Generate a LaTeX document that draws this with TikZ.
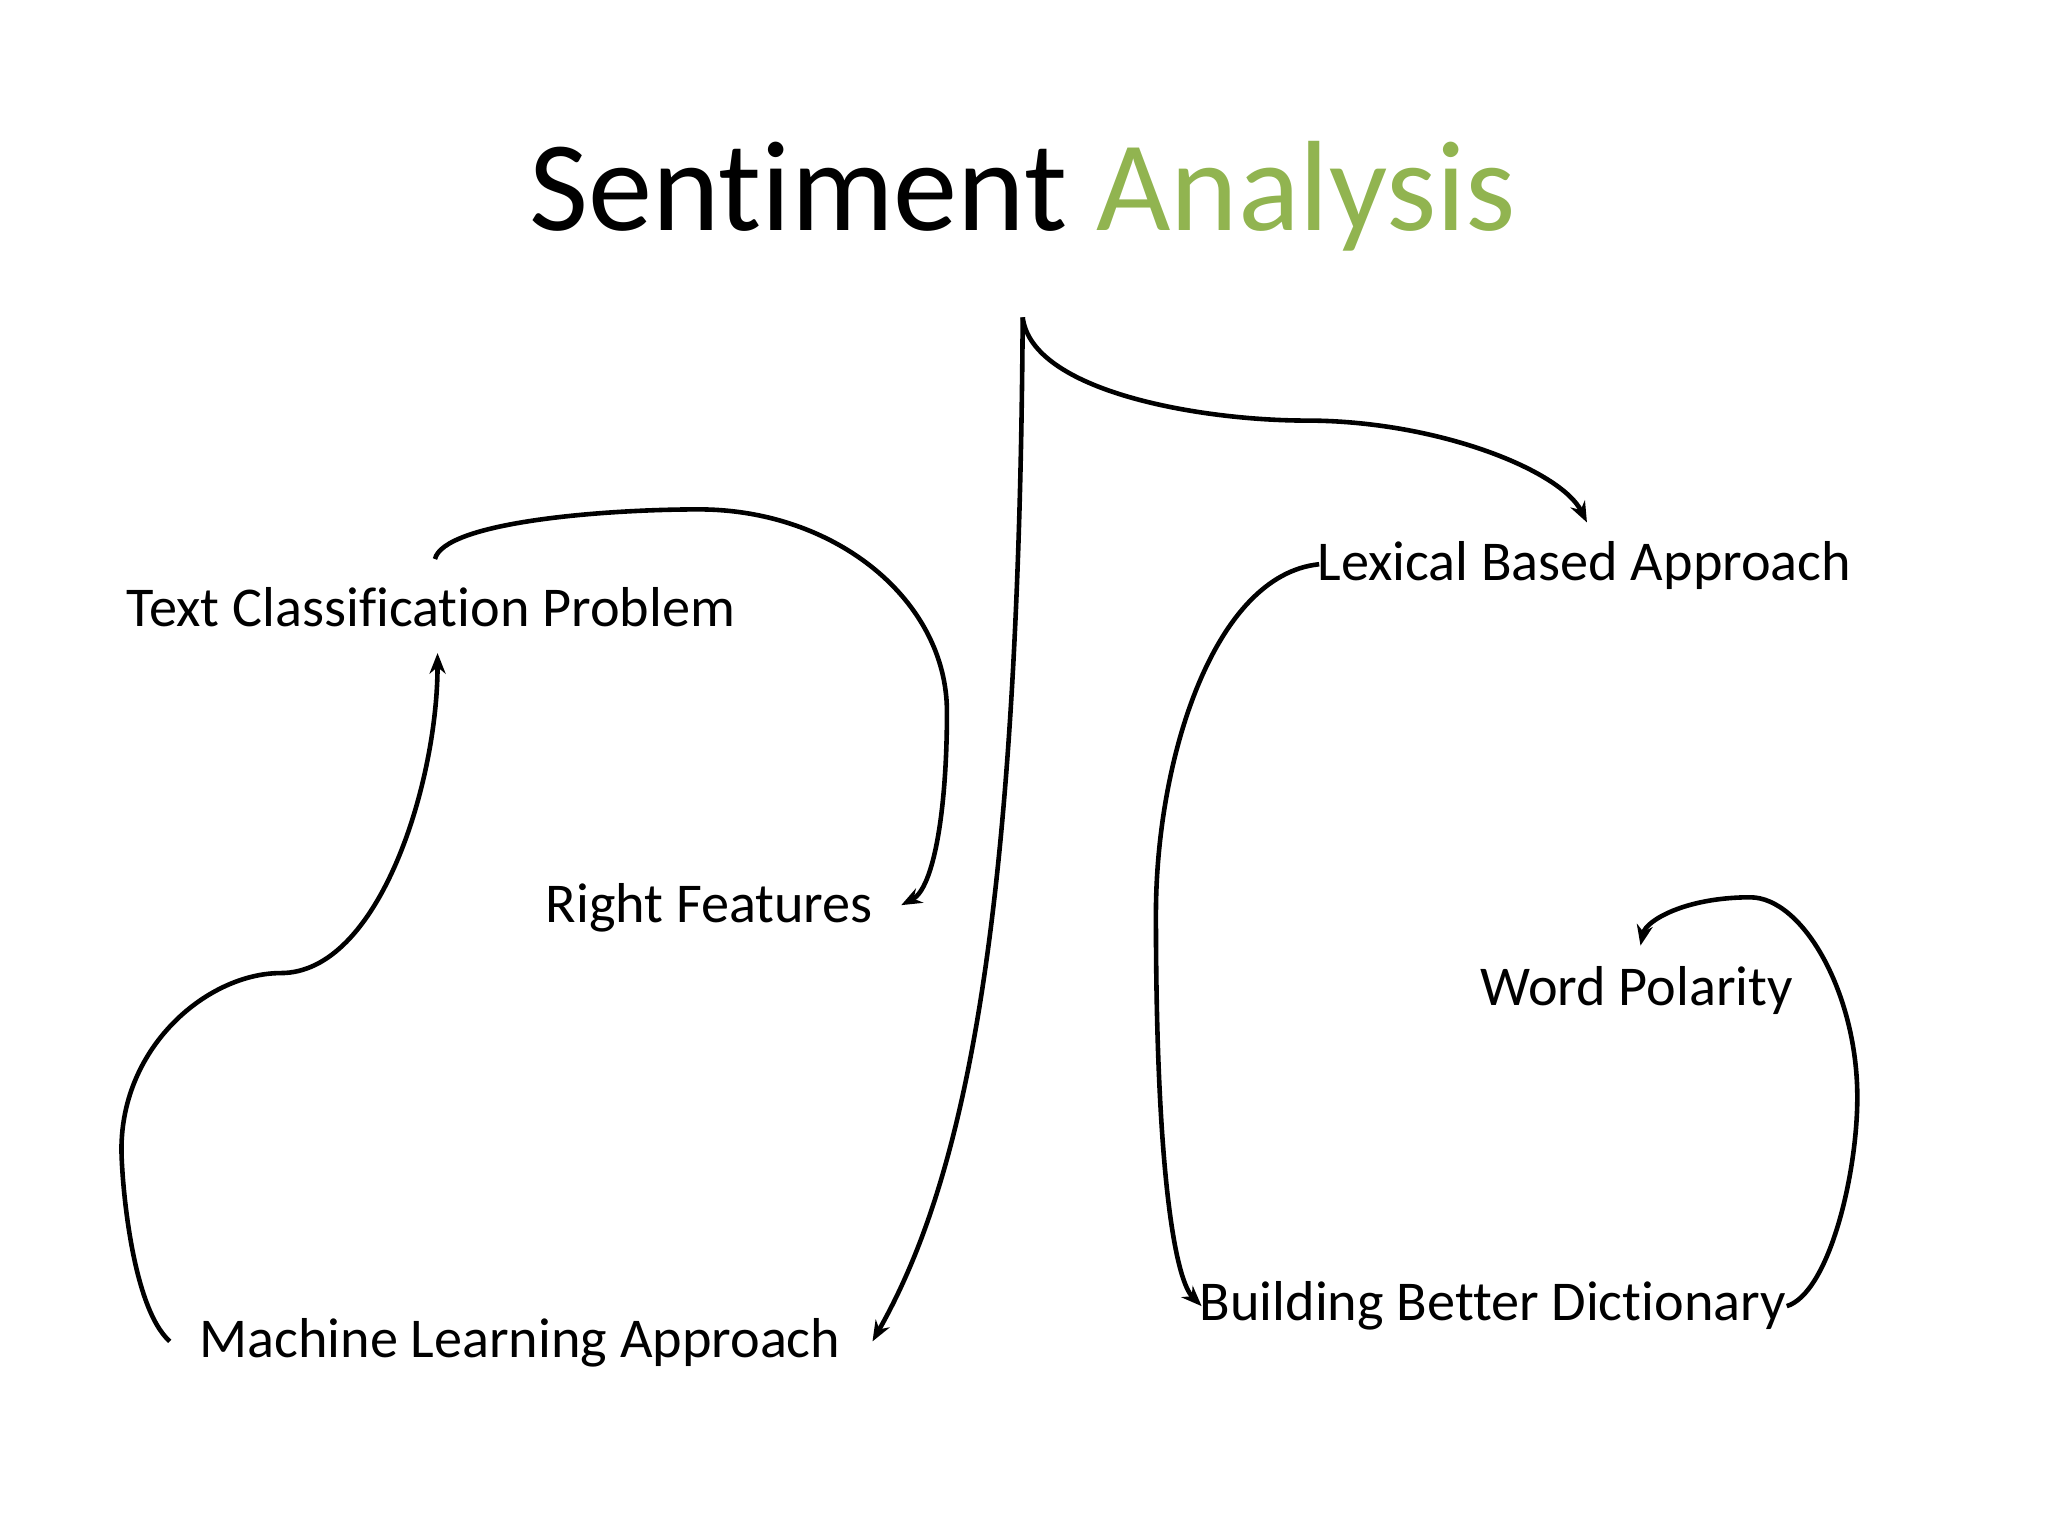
\documentclass[tikz,border=0pt]{standalone}
\usepackage{fontspec}
\setmainfont{Carlito}[Ligatures=NoCommon]
\usetikzlibrary{arrows.meta}
\definecolor{grn}{RGB}{145,180,80}
\begin{document}
\begin{tikzpicture}[x=0.02cm,y=-0.02cm,
  lab/.style={font=\fontsize{24.5}{29}\selectfont,inner sep=0pt},
  con/.style={line width=2pt,-{Stealth[length=9pt,width=7pt]}}]
\useasboundingbox (0,0) rectangle (1568,1176);
\node (title) at (783,150) {\fontsize{56}{66}\selectfont Sentiment \textcolor{grn}{Analysis}};
\node[lab] (tcp) at (330,465) {Text Classification Problem};
\node[lab] (rf) at (543,695) {Right Features};
\node[lab] (ml) at (398,1028) {Machine Learning Approach};
\node[lab] (lex) at (1213,433) {Lexical Based Approach};
\node[lab] (wp) at (1253,758) {Word Polarity};
\node[lab] (bbd) at (1143,1000) {Building Better Dictionary};
\coordinate (top) at (783,243);
\draw[con] (top) .. controls (780,700) and (740,900) .. (668,1027);
\draw[con] (top) .. controls (790,300) and (920,322) .. (1000,322) .. controls (1100,322) and (1195,360) .. (1215,400);
\draw[con] (130,1027) .. controls (100,1000) and (93,900) .. (93,880) .. controls (93,800) and (160,745) .. (215,745) .. controls (290,745) and (335,600) .. (335,500);
\draw[con] (333,428) .. controls (340,400) and (460,390) .. (535,390) .. controls (640,390) and (725,460) .. (725,545) .. controls (725,620) and (715,680) .. (690,693);
\draw[con] (1010,432) .. controls (930,440) and (885,580) .. (885,700) .. controls (885,900) and (900,980) .. (920,1000);
\draw[con] (1368,1000) .. controls (1400,990) and (1422,900) .. (1422,840) .. controls (1422,760) and (1380,687) .. (1340,687) .. controls (1290,687) and (1260,705) .. (1256,724);
\end{tikzpicture}
\end{document}
